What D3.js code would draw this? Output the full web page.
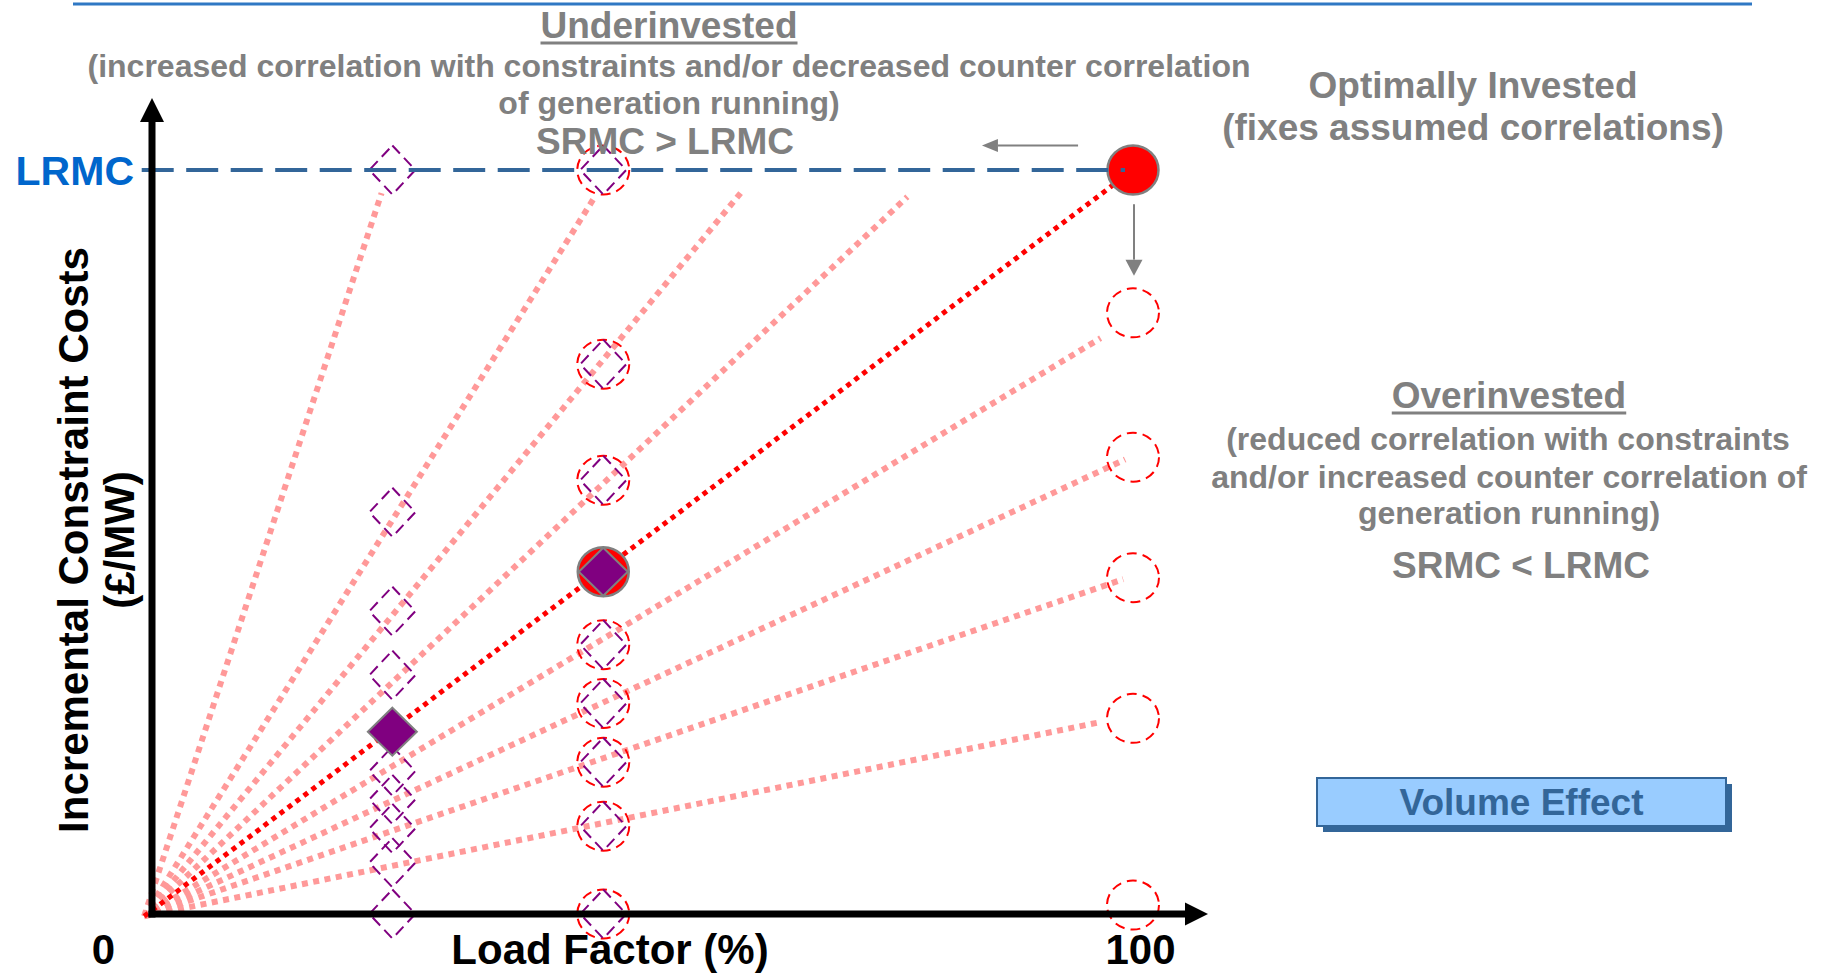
<!DOCTYPE html>
<html><head><meta charset="utf-8">
<script src="https://cdn.jsdelivr.net/npm/d3@7"></script>
<style>
html,body{margin:0;padding:0;background:#fff;}
svg{display:block;}
text{font-family:"Liberation Sans",Arial,Helvetica,sans-serif;font-weight:bold;}
</style></head><body>
<svg id="chart" width="1830" height="974"></svg>
<script>
// ---------------- data ----------------
const xTickValues = [0, 100];
const xTickLabels = ["0", "100"];
const xAxisTitle = "Load Factor (%)";
const yAxisTitle = ["Incremental Constraint Costs", "(£/MW)"];
const lrmcValue = 100;
const lrmcLabel = "LRMC";
// load-factor position of the three marker columns
const colX = [24.5, 46, 100];
// cost values (LRMC = 100)
const col1Diamonds = [100, 54.0, 40.7, 32.1, 19.2, 15.4, 11.5, 6.9, 0];
const col2Markers = [100, 73.9, 58.3, 36.2, 28.3, 20.4, 11.8, 0];
const col3Circles = [80.8, 61.4, 45.2, 26.3, 1.2];
const filledDiamondX = [24.5, 46];
const filledDiamondY = [24.5, 46];
const filledCircleX = [46, 100];
const filledCircleY = [46, 100];
// rays from the origin
const rayStart = [-0.8, -0.3];
const rayEndX = [23.4, 45.0, 60.0, 77.0, 96.7, 99.2, 99.0, 96.7];
const rayEndY = [96.9, 96.1, 96.9, 96.4, 77.4, 61.1, 45.0, 25.8];
const mainRayEnd = [100, 100];
// grey arrows [x1,y1,x2,y2] in data units
const arrowLeft = [94.4, 103.3, 84.6, 103.3];
const arrowDown = [100.1, 95.4, 100.1, 85.8];
// texts
const underLines = ["Underinvested",
  "(increased correlation with constraints and/or decreased counter correlation",
  "of generation running)", "SRMC > LRMC"];
const optimalLines = ["Optimally Invested", "(fixes assumed correlations)"];
const overLines = ["Overinvested", "(reduced correlation with constraints",
  "and/or increased counter correlation of", "generation running)", "SRMC < LRMC"];
const volumeLabel = "Volume Effect";

// ---------------- chart ----------------
const svg = d3.select("#chart");
const x = d3.scaleLinear().domain([0, 100]).range([152, 1133]);
const y = d3.scaleLinear().domain([0, 100]).range([914, 170]);
const GREY = "#808080";

// top rule
svg.append("line").attr("x1", 73).attr("x2", 1752).attr("y1", 4).attr("y2", 4)
  .attr("stroke", "#2F78C4").attr("stroke-width", 3);

const gRays = svg.append("g");
gRays.selectAll("line.ray").data(rayEndX).join("line").attr("class", "ray")
  .attr("x1", x(rayStart[0])).attr("y1", y(rayStart[1]))
  .attr("x2", d => x(d)).attr("y2", (d, i) => y(rayEndY[i]))
  .attr("stroke", "#FF9999").attr("stroke-width", 6)
  .attr("stroke-dasharray", "6,5.5");
gRays.append("line")
  .attr("x1", x(rayStart[0])).attr("y1", y(rayStart[1]))
  .attr("x2", x(mainRayEnd[0])).attr("y2", y(mainRayEnd[1]))
  .attr("stroke", "#FF0000").attr("stroke-width", 5)
  .attr("stroke-dasharray", "5,5");

function diamondPath(cx, cy, hw, hh) {
  return `M${cx},${cy - hh}L${cx + hw},${cy}L${cx},${cy + hh}L${cx - hw},${cy}Z`;
}

const gMarks = svg.append("g");
// column 2 dashed circles
gMarks.selectAll("ellipse.c2").data(col2Markers).join("ellipse").attr("class", "c2")
  .attr("cx", x(colX[1])).attr("cy", d => y(d)).attr("rx", 26).attr("ry", 24.5)
  .attr("fill", "none").attr("stroke", "#FF0000").attr("stroke-width", 2)
  .attr("stroke-dasharray", "10,6");
// column 3 dashed circles
gMarks.selectAll("ellipse.c3").data(col3Circles).join("ellipse").attr("class", "c3")
  .attr("cx", x(colX[2])).attr("cy", d => y(d)).attr("rx", 26).attr("ry", 24.5)
  .attr("fill", "none").attr("stroke", "#FF0000").attr("stroke-width", 2)
  .attr("stroke-dasharray", "10,6");
// dashed diamonds columns 1 and 2
gMarks.selectAll("path.d1").data(col1Diamonds).join("path").attr("class", "d1")
  .attr("d", d => diamondPath(x(colX[0]), y(d), 23, 24.5))
  .attr("fill", "none").attr("stroke", "#800080").attr("stroke-width", 2)
  .attr("stroke-dasharray", "11,6");
gMarks.selectAll("path.d2").data(col2Markers).join("path").attr("class", "d2")
  .attr("d", d => diamondPath(x(colX[1]), y(d), 23, 24.5))
  .attr("fill", "none").attr("stroke", "#800080").attr("stroke-width", 2)
  .attr("stroke-dasharray", "11,6");
// filled circles
gMarks.selectAll("ellipse.fc").data(filledCircleX).join("ellipse").attr("class", "fc")
  .attr("cx", d => x(d)).attr("cy", (d, i) => y(filledCircleY[i]))
  .attr("rx", 25.5).attr("ry", 24.5)
  .attr("fill", "#FF0000").attr("stroke", GREY).attr("stroke-width", 2.5);
// filled diamonds
gMarks.selectAll("path.fd").data(filledDiamondX).join("path").attr("class", "fd")
  .attr("d", (d, i) => diamondPath(x(d), y(filledDiamondY[i]), 24.5, 24))
  .attr("fill", "#800080").attr("stroke", GREY).attr("stroke-width", 2);

// LRMC dashed line
svg.append("line").attr("x1", 141.7).attr("x2", x(100) - 8)
  .attr("y1", y(lrmcValue)).attr("y2", y(lrmcValue))
  .attr("stroke", "#336699").attr("stroke-width", 4)
  .attr("stroke-dasharray", "32,12.5");
svg.append("text").attr("x", 134).attr("y", y(lrmcValue) + 15)
  .attr("text-anchor", "end").attr("font-size", 41).attr("fill", "#0066CC")
  .text(lrmcLabel);

// grey arrows
function arrow(a, head) {
  const [x1, y1, x2, y2] = [x(a[0]), y(a[1]), x(a[2]), y(a[3])];
  const ang = Math.atan2(y2 - y1, x2 - x1);
  const L = 16;
  const bx = x2 - L * Math.cos(ang), by = y2 - L * Math.sin(ang);
  svg.append("line").attr("x1", x1).attr("y1", y1).attr("x2", bx).attr("y2", by)
    .attr("stroke", GREY).attr("stroke-width", 2);
  const px = -Math.sin(ang) * head, py = Math.cos(ang) * head;
  svg.append("path").attr("d", `M${x2},${y2}L${bx + px},${by + py}L${bx - px},${by - py}Z`)
    .attr("fill", GREY);
}
arrow(arrowLeft, 6.5);
arrow(arrowDown, 8.5);

// axes
const AX = "#000";
svg.append("line").attr("x1", x(0)).attr("x2", x(0)).attr("y1", y(0) + 3.5).attr("y2", 120)
  .attr("stroke", AX).attr("stroke-width", 7);
svg.append("path").attr("d", `M${x(0)},98L${x(0) + 12},122L${x(0) - 12},122Z`).attr("fill", AX);
svg.append("line").attr("x1", x(0) - 3.5).attr("x2", 1187).attr("y1", y(0)).attr("y2", y(0))
  .attr("stroke", AX).attr("stroke-width", 7);
svg.append("path").attr("d", `M1208,${y(0)}L1185,${y(0) - 11.5}L1185,${y(0) + 11.5}Z`).attr("fill", AX);

const tickDx = [-49, 7];
const xAxisG = svg.append("g").attr("transform", `translate(0,${y(0)})`)
  .call(d3.axisBottom(x).tickValues(xTickValues).tickSize(0).tickPadding(20)
    .tickFormat((d, i) => xTickLabels[i]));
xAxisG.select(".domain").remove();
xAxisG.selectAll("text").attr("font-size", 42).attr("font-family", null)
  .attr("fill", "#000").attr("dx", (d, i) => tickDx[i]);

svg.append("text").attr("x", 610).attr("y", 964).attr("text-anchor", "middle")
  .attr("font-size", 42).attr("fill", "#000").text(xAxisTitle);

svg.append("text").attr("transform", "translate(88,540) rotate(-90)")
  .attr("text-anchor", "middle").attr("font-size", 42).attr("fill", "#000").text(yAxisTitle[0]);
svg.append("text").attr("transform", "translate(134,540) rotate(-90)")
  .attr("text-anchor", "middle").attr("font-size", 42).attr("fill", "#000").text(yAxisTitle[1]);

// annotation texts
function textLine(str, cx, base, size, underline) {
  const t = svg.append("text").attr("x", cx).attr("y", base).attr("text-anchor", "middle")
    .attr("font-size", size).attr("fill", GREY).text(str);
  if (underline) {
    const b = t.node().getBBox();
    svg.append("line").attr("x1", b.x).attr("x2", b.x + b.width)
      .attr("y1", base + 5).attr("y2", base + 5).attr("stroke", GREY).attr("stroke-width", 3);
  }
}
textLine(underLines[0], 669, 38, 37, true);
textLine(underLines[1], 669, 77, 32);
textLine(underLines[2], 669, 114, 32);
textLine(underLines[3], 665, 154, 37);
textLine(optimalLines[0], 1473, 98, 37);
textLine(optimalLines[1], 1473, 140, 37);
textLine(overLines[0], 1509, 408, 37, true);
textLine(overLines[1], 1508, 450, 32);
textLine(overLines[2], 1509, 488, 32);
textLine(overLines[3], 1509, 524, 32);
textLine(overLines[4], 1521, 578, 37);

// volume effect box
svg.append("rect").attr("x", 1323).attr("y", 784).attr("width", 409).attr("height", 48).attr("fill", "#336699");
svg.append("rect").attr("x", 1317).attr("y", 778).attr("width", 409).attr("height", 48)
  .attr("fill", "#99CCFF").attr("stroke", "#336699").attr("stroke-width", 2);
svg.append("text").attr("x", 1521.5).attr("y", 815).attr("text-anchor", "middle")
  .attr("font-size", 37).attr("fill", "#336699").text(volumeLabel);
</script>
</body></html>
